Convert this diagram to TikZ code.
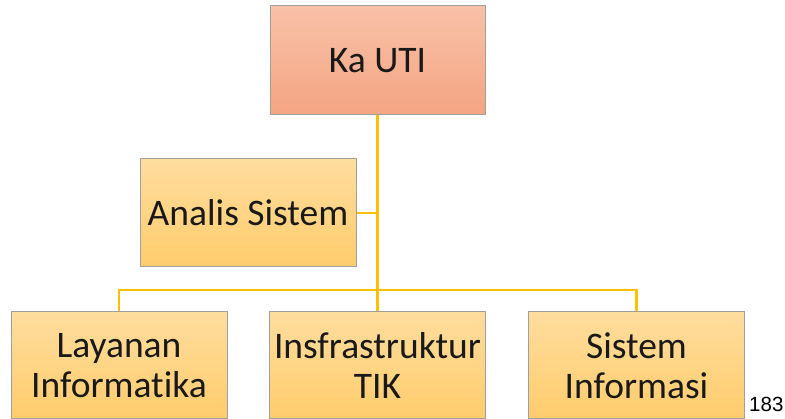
\documentclass[tikz,border=0pt]{standalone}
\usepackage{fontspec}
\setmainfont{Carlito}[Ligatures=NoCommon]
\newfontfamily\numfont{Liberation Sans}
\begin{document}
\begin{tikzpicture}[x=1pt,y=1pt,
  boxbase/.style={rectangle, draw=gray!75, line width=1pt, align=center,
    font=\fontsize{37.5}{40}\selectfont, text=black!90, inner sep=0pt},
  topbox/.style={boxbase, top color=salmontop, bottom color=salmonbot,
    minimum width=215pt, minimum height=109pt},
  subbox/.style={boxbase, top color=goldtop, bottom color=goldbot,
    minimum width=216pt, minimum height=108pt},
  link/.style={draw=linkgold, line width=2.6pt}
]
\definecolor{salmontop}{HTML}{F8C1A8}
\definecolor{salmonbot}{HTML}{F4A482}
\definecolor{goldtop}{HTML}{FFDD9E}
\definecolor{goldbot}{HTML}{FFCC6C}
\definecolor{linkgold}{HTML}{FFC000}
\useasboundingbox (0,0) rectangle (785,419);

\node[topbox] (ka) at (377.5,358.5) {Ka UTI};
\node[subbox] (an) at (248,206) {Analis Sistem};
\node[subbox, minimum height=107pt] (lay) at (119,53.5) {Layanan\\Informatika};
\node[subbox, minimum height=107pt] (inf) at (377.5,53.5) {Insfrastruktur\\TIK};
\node[subbox, minimum height=107pt] (sis) at (636.5,53.5) {Sistem\\Informasi};
\node[font=\numfont\fontsize{20.5}{24}\selectfont, anchor=base west, inner sep=0pt] (pg) at (749,7) {183};

\coordinate (bus) at (377.5,129);
\path[link] (ka.south) -- (inf.north);
\path[link] (an.east) -- (an.east -| ka.south);
\path[link] (lay.north) |- (bus) -| (sis.north);
\end{tikzpicture}
\end{document}
